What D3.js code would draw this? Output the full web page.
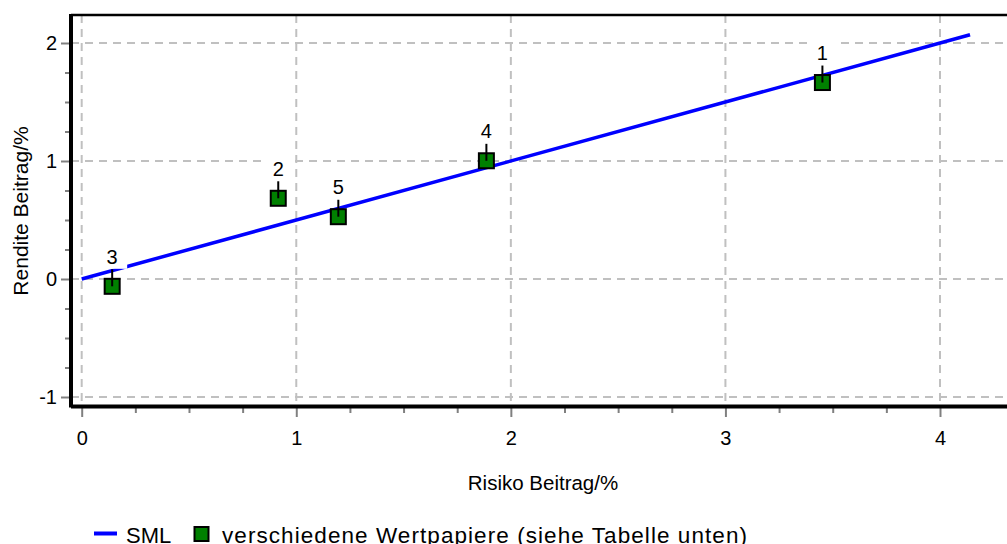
<!DOCTYPE html>
<html>
<head>
<meta charset="utf-8">
<script src="https://cdn.jsdelivr.net/npm/d3@7"></script>
<style>
  html, body { margin: 0; padding: 0; background: #fff; }
  svg { display: block; font-family: "Liberation Sans", Arial, sans-serif; }
</style>
</head>
<body>
<svg id="chart" width="1007" height="544"></svg>
<script>
// ---- data ----
const pointLabels = ["1", "2", "3", "4", "5"];
const riskValues   = [3.452, 0.916, 0.142, 1.886, 1.196];
const returnValues = [1.665, 0.684, -0.062, 1.002, 0.528];
const smlX = [0, 4.14];
const smlY = [0, 2.07];
const xTicks = [0, 1, 2, 3, 4];
const yTicks = [-1, 0, 1, 2];
const xMinor = [0.25, 0.5, 0.75, 1.25, 1.5, 1.75, 2.25, 2.5, 2.75, 3.25, 3.5, 3.75];
const yMinor = [-0.75, -0.5, -0.25, 0.25, 0.5, 0.75, 1.25, 1.5, 1.75];
const xTitle = "Risiko Beitrag/%";
const yTitle = "Rendite Beitrag/%";
const legendLine = "SML";
const legendPoints = "verschiedene Wertpapiere (siehe Tabelle unten)";

// ---- layout ----
const frame = { left: 71, right: 1007, top: 15, bottom: 406.5 };
const svg = d3.select("#chart");
const x = d3.scaleLinear().domain([0, 4]).range([81.7, 940]);
const y = d3.scaleLinear().domain([-1, 2]).range([397, 43]);
const fmt = d => String(d);

// gridlines
const grid = svg.append("g");
grid.selectAll("line.gx").data(xTicks).join("line")
  .attr("x1", d => x(d)).attr("x2", d => x(d))
  .attr("y1", frame.top).attr("y2", frame.bottom)
  .attr("stroke", "#c0c0c0").attr("stroke-width", 2).attr("stroke-dasharray", "8,6");
grid.selectAll("line.gy").data(yTicks).join("line")
  .attr("y1", d => y(d)).attr("y2", d => y(d))
  .attr("x1", frame.left).attr("x2", frame.right)
  .attr("stroke", "#c0c0c0").attr("stroke-width", 2).attr("stroke-dasharray", "8,6");

// axes ticks
const styleAxis = (g) => {
  g.select(".domain").remove();
  g.selectAll(".tick line").attr("stroke", "#808080").attr("stroke-width", 2);
  g.selectAll(".tick text").attr("fill", "#000").attr("font-size", 20)
    .attr("font-family", '"Liberation Sans", Arial, sans-serif');
};
svg.append("g").attr("transform", `translate(0,${frame.bottom + 1.5})`)
  .call(d3.axisBottom(x).tickValues(xTicks).tickFormat(fmt).tickSize(9).tickPadding(14))
  .call(styleAxis);
svg.append("g").attr("transform", `translate(0,${frame.bottom + 1.5})`)
  .call(d3.axisBottom(x).tickValues(xMinor).tickFormat("").tickSize(5))
  .call(styleAxis);
svg.append("g").attr("transform", `translate(${frame.left - 1},0)`)
  .call(d3.axisLeft(y).tickValues(yTicks).tickFormat(fmt).tickSize(9).tickPadding(4))
  .call(styleAxis);
svg.append("g").attr("transform", `translate(${frame.left - 1},0)`)
  .call(d3.axisLeft(y).tickValues(yMinor).tickFormat("").tickSize(5))
  .call(styleAxis);

// frame lines
svg.append("line").attr("x1", frame.left).attr("x2", frame.right)
  .attr("y1", frame.top).attr("y2", frame.top).attr("stroke", "#000").attr("stroke-width", 2.5);
svg.append("line").attr("x1", frame.left).attr("x2", frame.left)
  .attr("y1", frame.top - 1).attr("y2", frame.bottom + 1).attr("stroke", "#000").attr("stroke-width", 4);
svg.append("line").attr("x1", frame.left).attr("x2", frame.right)
  .attr("y1", frame.bottom).attr("y2", frame.bottom).attr("stroke", "#000").attr("stroke-width", 4);

// SML line
const smlData = smlX.map((d, i) => [d, smlY[i]]);
svg.append("path").datum(smlData)
  .attr("d", d3.line().x(d => x(d[0])).y(d => y(d[1])))
  .attr("stroke", "#0000ff").attr("stroke-width", 3.5).attr("fill", "none");

// points
const pts = pointLabels.map((l, i) => ({ label: l, xv: riskValues[i], yv: returnValues[i] }));
const pg = svg.append("g").selectAll("g").data(pts).join("g")
  .attr("transform", d => `translate(${x(d.xv)},${y(d.yv)})`);
pg.append("rect").attr("x", -7.5).attr("y", -7.5).attr("width", 15).attr("height", 15)
  .attr("fill", "#008000").attr("stroke", "#000").attr("stroke-width", 2);
pg.append("line").attr("x1", 0).attr("x2", 0).attr("y1", 0).attr("y2", -17)
  .attr("stroke", "#000").attr("stroke-width", 2);
pg.append("rect").attr("x", -15).attr("y", -41).attr("width", 30).attr("height", 23.5)
  .attr("fill", "#fff");
pg.append("text").attr("x", 0).attr("y", -22.5).attr("text-anchor", "middle")
  .attr("font-size", 20).attr("fill", "#000").text(d => d.label);

// axis titles
svg.append("text").attr("x", 543).attr("y", 490).attr("text-anchor", "middle")
  .attr("font-size", 20.5).attr("fill", "#000").text(xTitle);
svg.append("text").attr("transform", "translate(28,211) rotate(-90)").attr("text-anchor", "middle")
  .attr("font-size", 21).attr("fill", "#000").text(yTitle);

// legend
const lg = svg.append("g");
lg.append("line").attr("x1", 94).attr("x2", 117).attr("y1", 533.5).attr("y2", 533.5)
  .attr("stroke", "#0000ff").attr("stroke-width", 4);
lg.append("text").attr("x", 126).attr("y", 542.5).attr("font-size", 22).attr("fill", "#000").text(legendLine);
lg.append("rect").attr("x", 194.5).attr("y", 527).attr("width", 14).attr("height", 14)
  .attr("fill", "#008000").attr("stroke", "#000").attr("stroke-width", 2);
lg.append("text").attr("x", 222).attr("y", 542.5).attr("font-size", 22.5).attr("fill", "#000")
  .attr("textLength", 525).attr("lengthAdjust", "spacing").text(legendPoints);
</script>
</body>
</html>
